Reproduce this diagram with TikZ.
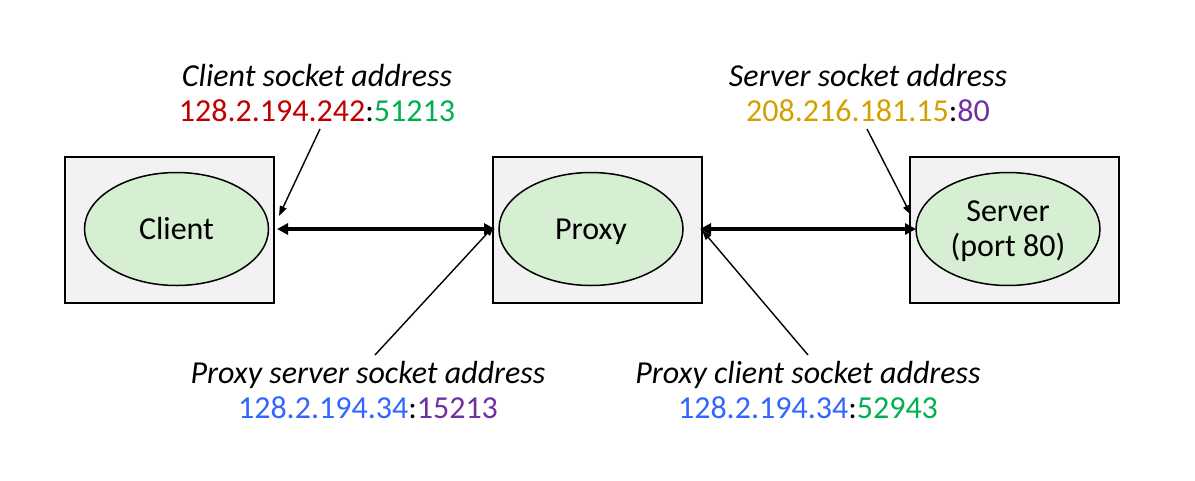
\documentclass[tikz,border=0pt]{standalone}
\usepackage{fontspec}
\setmainfont{Carlito}
\usetikzlibrary{arrows.meta,shapes.geometric}
\definecolor{boxfill}{HTML}{F2F2F2}
\definecolor{ellfill}{HTML}{D6EFD2}
\definecolor{ipred}{HTML}{C00000}
\definecolor{ipgreen}{HTML}{00B050}
\definecolor{ipgold}{HTML}{D4A000}
\definecolor{ippurple}{HTML}{7030A0}
\definecolor{ipblue}{HTML}{3366FF}
\tikzset{
  hostbox/.style={draw=black, line width=2pt, fill=boxfill, rectangle, inner sep=0pt,
                  minimum width=209pt, minimum height=146pt},
  proc/.style={draw=black, line width=1.5pt, fill=ellfill, ellipse, inner sep=0pt,
               minimum width=184pt, minimum height=113pt, align=center,
               font=\fontsize{32}{35}\selectfont},
  addr/.style={align=center, inner sep=0pt, font=\fontsize{32}{35}\selectfont},
  link/.style={line width=3.4pt, {Triangle[length=11pt,width=11pt]}-{Triangle[length=11pt,width=11pt]}},
  pointer/.style={line width=1.4pt, -{Triangle[length=10pt,width=7pt]}}
}
\begin{document}
\begin{tikzpicture}[x=1pt,y=-1pt]
\useasboundingbox (0,0) rectangle (1195,480);
% host boxes
\node[hostbox] (cbox) at (169,229.5) {};
\node[hostbox] (pbox) at (597.5,229.5) {};
\node[hostbox] (sbox) at (1014,229.5) {};
% processes
\node[proc] (client) at (176.5,229) {Client};
\node[proc] (proxy) at (591,229) {\raisebox{0pt}[\height][0pt]{Proxy}};
\node[proc] (server) at (1008,229) {Server\\\raisebox{0pt}[\height][0pt]{(port 80)}};
% address labels
\node[addr] (cla) at (317,93) {\textit{Client socket address}\\\textcolor{ipred}{128.2.194.242}:\textcolor{ipgreen}{51213}};
\node[addr] (sva) at (868,93) {\textit{Server socket address}\\\textcolor{ipgold}{208.216.181.15}:\textcolor{ippurple}{80}};
\node[addr] (psa) at (368,390) {\textit{Proxy server socket address}\\\textcolor{ipblue}{128.2.194.34}:\textcolor{ippurple}{15213}};
\node[addr] (pca) at (808,390) {\textit{Proxy client socket address}\\\textcolor{ipblue}{128.2.194.34}:\textcolor{ipgreen}{52943}};
% connection end points
\coordinate (c1) at (277,229);
\coordinate (p1) at (495,229);
\coordinate (p2) at (700,229);
\coordinate (s1) at (916,229);
\coordinate (ctip) at (279,216);
\coordinate (stip) at (911,215);
\coordinate (pstip) at (494,226);
\coordinate (pctip) at (702,230);
\coordinate (cfrom) at (320,129);
\coordinate (sfrom) at (867,129);
\coordinate (psfrom) at (375,355);
\coordinate (pcfrom) at (808,355);
% connections
\draw[link] (c1) -- (p1);
\draw[link] (p2) -- (s1);
\draw[pointer] (cfrom) -- (ctip);
\draw[pointer] (sfrom) -- (stip);
\draw[pointer] (psfrom) -- (pstip);
\draw[pointer] (pcfrom) -- (pctip);
\end{tikzpicture}
\end{document}
